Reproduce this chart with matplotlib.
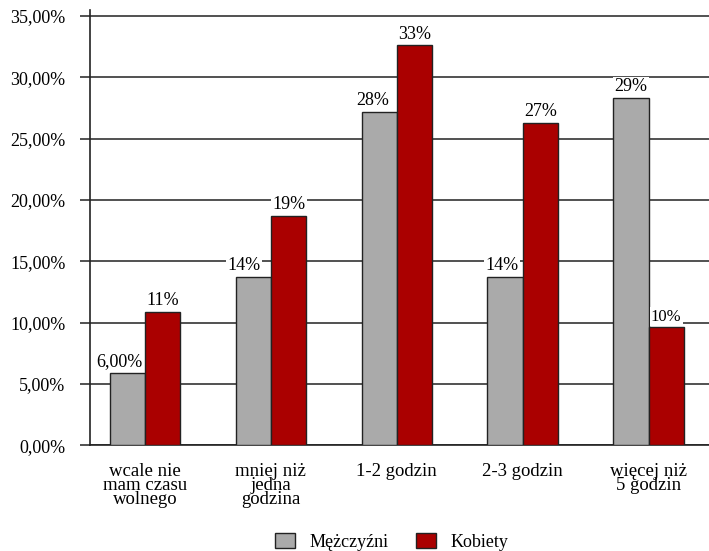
import matplotlib
matplotlib.use("Agg")
import matplotlib.pyplot as plt
import numpy as np
from matplotlib.patches import Patch

plt.rcParams['font.family'] = ['Liberation Serif', 'DejaVu Serif']

categories = ["wcale nie\nmam czasu\nwolnego", "mniej niż\njedna\ngodzina", "1-2 godzin", "2-3 godzin", "więcej niż\n5 godzin"]
men = [5.9, 13.7, 27.2, 13.7, 28.3]
women = [10.9, 18.7, 32.6, 26.3, 9.6]
men_labels = ["6,00%", "14%", "28%", "14%", "29%"]
women_labels = ["11%", "19%", "33%", "27%", "10%"]
yticks = [0, 5, 10, 15, 20, 25, 30, 35]
ytick_labels = ["0,00%", "5,00%", "10,00%", "15,00%", "20,00%", "25,00%", "30,00%", "35,00%"]
series_names = ["Mężczyźni", "Kobiety"]

grey = "#aaaaaa"
red = "#aa0000"

fig = plt.figure(figsize=(7.09, 5.51), dpi=100)
ax = fig.add_axes([0.127, 0.192, 0.873, 0.79])

x = np.arange(len(categories))
w = 0.28
ax.bar(x - w/2, men, w, color=grey, edgecolor="#222222", linewidth=1.0, zorder=3)
ax.bar(x + w/2, women, w, color=red, edgecolor="#222222", linewidth=1.0, zorder=3)

ax.set_xlim(-0.437, 4.48)
ax.set_ylim(0, 35.5)
ax.set_yticks(yticks)
ax.set_yticklabels(ytick_labels, fontsize=13)
ax.yaxis.grid(True, color="#333333", linewidth=1.2, zorder=1)
ax.tick_params(axis='y', length=7.2, width=1.2, color="#333333", pad=10.5)
ax.set_xticks(x)
ax.set_xticklabels(categories, fontsize=13.5, linespacing=0.8)
ax.tick_params(axis='x', length=0, pad=12.5)

for s in ["top", "right"]:
    ax.spines[s].set_visible(False)
ax.spines["left"].set_color("#222222")
ax.spines["bottom"].set_color("#222222")
ax.spines["left"].set_linewidth(1.2)
ax.spines["bottom"].set_linewidth(1.2)

men_dx = [-6, -7, -5, -2, 0]
for i in range(len(categories)):
    ax.annotate(men_labels[i], (x[i] - w/2, men[i]), xytext=(men_dx[i], 2), textcoords="offset points",
                ha="center", va="bottom", fontsize=13, zorder=4,
                bbox=dict(facecolor="white", edgecolor="none", pad=1))
    fs = 12 if women_labels[i] == "10%" else 13
    ax.annotate(women_labels[i], (x[i] + w/2, women[i]), xytext=(0, 2), textcoords="offset points",
                ha="center", va="bottom", fontsize=fs, zorder=4,
                bbox=dict(facecolor="white", edgecolor="none", pad=1))

handles = [Patch(facecolor=grey, edgecolor="#222222"), Patch(facecolor=red, edgecolor="#222222")]
ax.legend(handles, series_names, loc="center", bbox_to_anchor=(0.487, -0.222), ncol=2,
          frameon=False, fontsize=13, handlelength=1.1, handleheight=0.85,
          handletextpad=0.8, columnspacing=1.55)

fig.savefig("out.png", dpi=100)
